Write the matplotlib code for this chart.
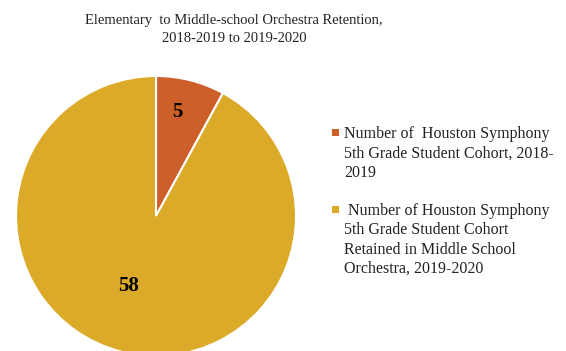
import numpy as np
import matplotlib
matplotlib.use("Agg")
import matplotlib.pyplot as plt
from matplotlib.patches import Rectangle

plt.rcParams['font.family'] = ['Liberation Serif', 'DejaVu Serif']

# cohort counts
labels = [
    "Number of  Houston Symphony\n5th Grade Student Cohort, 2018-\n2019",
    " Number of Houston Symphony\n5th Grade Student Cohort\nRetained in Middle School\nOrchestra, 2019-2020",
]
values = [5, 58]
colors = ["#CC5F2A", "#DBAA28"]
title = "Elementary  to Middle-school Orchestra Retention,\n2018-2019 to 2019-2020"

W, H = 566, 351
fig = plt.figure(figsize=(W / 100, H / 100), dpi=100)

# pie centred at (156, 216) px with radius 140 px
cx, cy, r = 156, 216, 140
ax = fig.add_axes([(cx - r) / W, (H - cy - r) / H, 2 * r / W, 2 * r / H])
wedges, _ = ax.pie(values, colors=colors, startangle=90, counterclock=False,
                   wedgeprops=dict(edgecolor='white', linewidth=1.5))
ax.set_xlim(-1, 1)
ax.set_ylim(-1, 1)
ax.set_aspect('equal')
ax.axis('off')

# value labels near the middle angle of each wedge
dists = [0.76, 0.54]
shifts = [2.5, -7]
for w, v, d, s in zip(wedges, values, dists, shifts):
    ang = np.deg2rad((w.theta1 + w.theta2) / 2 + s)
    ax.text(d * np.cos(ang), d * np.sin(ang), str(v), ha='center', va='center',
            fontsize=15, fontweight='bold', color='black')

fig.text(234 / W, 1 - 14 / H, title, ha='center', va='top', fontsize=10.5,
         linespacing=1.45, color='#222222')

# legend entries
tops = [126, 203]
for lab, col, t in zip(labels, colors, tops):
    fig.text(344 / W, 1 - t / H, lab, ha='left', va='top', fontsize=11.5,
             linespacing=1.28, color='#222222')
    fig.add_artist(Rectangle((332 / W, 1 - (t + 10) / H), 7 / W, 7 / H,
                             transform=fig.transFigure, facecolor=col,
                             edgecolor='none'))

fig.savefig('out.png', dpi=100)
